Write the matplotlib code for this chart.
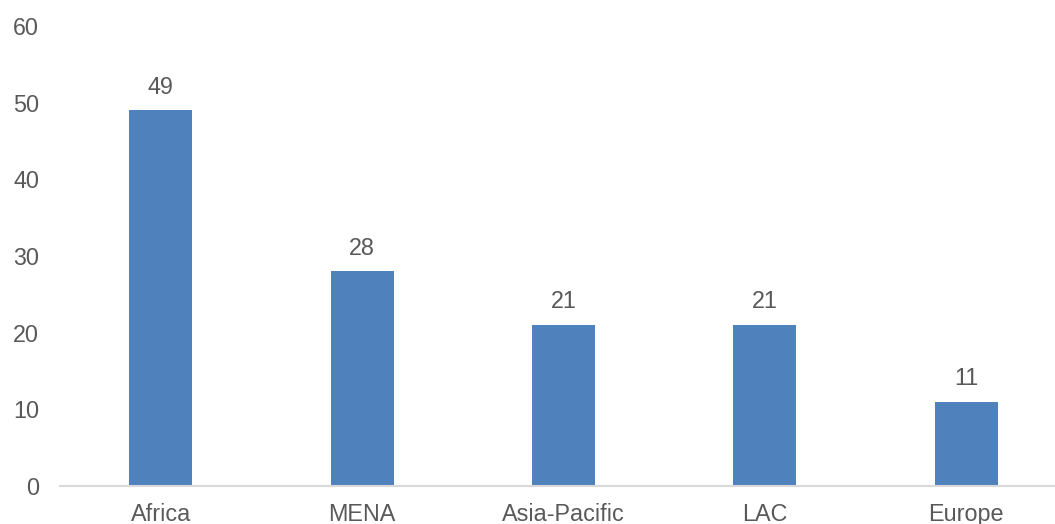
import matplotlib
matplotlib.use("Agg")
import matplotlib.pyplot as plt

regions = ["Africa", "MENA", "Asia-Pacific", "LAC", "Europe"]
counts = [49, 28, 21, 21, 11]
y_ticks = [0, 10, 20, 30, 40, 50, 60]

bar_color = "#4F81BD"
text_color = "#595959"
axis_color = "#D9D9D9"

plt.rcParams["font.family"] = ["Liberation Sans", "DejaVu Sans"]

fig = plt.figure(figsize=(10.55, 5.24), dpi=100)
ax = fig.add_axes([60 / 1055, 38 / 524, 1007 / 1055, 460 / 524])

x = list(range(len(regions)))
bars = ax.bar(x, counts, width=0.313, color=bar_color, zorder=2)

for rect, v in zip(bars, counts):
    ax.annotate(str(v), (rect.get_x() + rect.get_width() / 2, v),
                xytext=(0, 8.5), textcoords="offset points",
                ha="center", va="bottom", fontsize=16.8, color=text_color)

ax.set_xlim(-0.5, len(regions) - 0.5)
ax.set_ylim(0, 60)
ax.set_yticks(y_ticks)
ax.set_yticklabels([str(t) for t in y_ticks])
ax.set_xticks(x)
ax.set_xticklabels(regions)

for side in ["left", "right", "top"]:
    ax.spines[side].set_visible(False)
ax.spines["bottom"].set_color(axis_color)
ax.spines["bottom"].set_linewidth(1.5)

ax.tick_params(axis="y", length=0, pad=15, labelsize=16.8, labelcolor=text_color)
ax.tick_params(axis="x", length=0, pad=12, labelsize=16.8, labelcolor=text_color)

fig.savefig("out.png", dpi=100)
